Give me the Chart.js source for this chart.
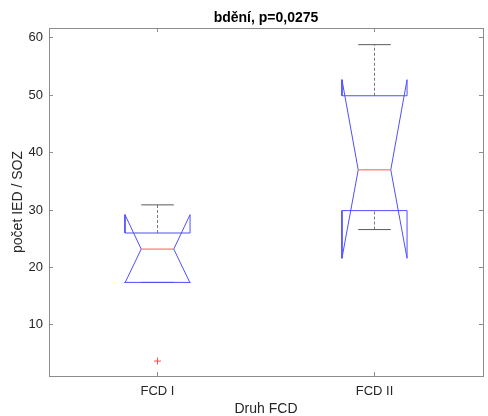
<!DOCTYPE html>
<html>
<head>
<meta charset="utf-8">
<script src="https://cdn.jsdelivr.net/npm/chart.js@4"></script>
<style>
  html, body { margin: 0; padding: 0; background: #fff; }
  #wrap { width: 488px; height: 416px; }
</style>
</head>
<body>
<div id="wrap"><canvas id="box" width="488" height="416"></canvas></div>
<script>
// ===== Data =====
const groups    = ["FCD I", "FCD II"];
const q1        = [17.4, 29.9];
const median    = [23.2, 37.0];
const q3        = [26.0, 49.9];
const notchLo   = [17.3, 21.6];
const notchHi   = [29.2, 52.7];
const whiskerLo = [17.4, 26.6];
const whiskerHi = [30.9, 58.8];
const outliers  = [[3.7], []];
const yTicks    = [10, 20, 30, 40, 50, 60];

// ===== Style =====
const BOX_W = 0.15, NOTCH_W = 0.075;
const axisColor = "#8c8c8c";
const textColor = "#262626";
Chart.defaults.font.family = "'Liberation Sans', Arial, sans-serif";

const lineDs = (data, color, order, dash) => ({
  type: "scatter",
  data,
  showLine: true,
  borderColor: color,
  borderWidth: 1,
  borderDash: dash || [],
  pointRadius: 0,
  fill: false,
  order
});

const datasets = [];
groups.forEach((g, i) => {
  const x = i + 1;
  // whiskers
  datasets.push(lineDs([{ x, y: q3[i] }, { x, y: whiskerHi[i] }], "#7a7a7a", 4, [3, 2]));
  datasets.push(lineDs([{ x, y: whiskerLo[i] }, { x, y: q1[i] }], "#7a7a7a", 4, [3, 2]));
  // caps
  datasets.push(lineDs([{ x: x - NOTCH_W, y: whiskerHi[i] }, { x: x + NOTCH_W, y: whiskerHi[i] }], "#5a5a5a", 3));
  datasets.push(lineDs([{ x: x - NOTCH_W, y: whiskerLo[i] }, { x: x + NOTCH_W, y: whiskerLo[i] }], "#5a5a5a", 3));
  // notched box outline
  datasets.push(lineDs([
    { x: x - BOX_W, y: q1[i] },
    { x: x - BOX_W, y: notchLo[i] },
    { x: x - NOTCH_W, y: median[i] },
    { x: x - BOX_W, y: notchHi[i] },
    { x: x - BOX_W, y: q3[i] },
    { x: x + BOX_W, y: q3[i] },
    { x: x + BOX_W, y: notchHi[i] },
    { x: x + NOTCH_W, y: median[i] },
    { x: x + BOX_W, y: notchLo[i] },
    { x: x + BOX_W, y: q1[i] },
    { x: x - BOX_W, y: q1[i] }
  ], "#4f4fff", 2));
  // median
  datasets.push(lineDs([{ x: x - NOTCH_W, y: median[i] }, { x: x + NOTCH_W, y: median[i] }], "#ff5a5a", 1));
  // outliers
  if (outliers[i].length) {
    datasets.push({
      type: "scatter",
      data: outliers[i].map(v => ({ x, y: v })),
      pointStyle: "cross",
      pointRadius: 3.5,
      borderColor: "#ff4d4d",
      borderWidth: 1,
      order: 0
    });
  }
});

const xTickSet = s => { s.ticks = groups.map((g, i) => ({ value: i + 1 })); };
const yTickSet = s => { s.ticks = yTicks.map(v => ({ value: v })); };
const gridIn = { drawOnChartArea: false, tickLength: -4, color: axisColor, lineWidth: 1 };

new Chart(document.getElementById("box"), {
  type: "scatter",
  data: { datasets },
  options: {
    responsive: false,
    animation: false,
    devicePixelRatio: 1,
    layout: { padding: 0 },
    plugins: {
      legend: { display: false },
      tooltip: { enabled: false },
      title: {
        display: true,
        text: "bdění, p=0,0275",
        fullSize: false,
        color: "#000",
        font: { size: 14, weight: "bold", lineHeight: 1.2 },
        padding: { top: 10, bottom: 0 }
      }
    },
    scales: {
      x: {
        type: "linear", position: "bottom", min: 0.5, max: 2.5,
        afterBuildTicks: xTickSet,
        afterFit: s => { s.height = 40; },
        grid: gridIn,
        border: { color: axisColor, width: 1 },
        ticks: {
          autoSkip: false, maxRotation: 0, padding: 12, color: textColor,
          font: { size: 13 },
          callback: v => groups[v - 1] ?? ""
        },
        title: {
          display: true, text: "Druh FCD", color: textColor,
          font: { size: 14, lineHeight: 1 }, padding: { top: 0, bottom: 0 }
        }
      },
      x2: {
        type: "linear", position: "top", min: 0.5, max: 2.5,
        afterBuildTicks: xTickSet,
        afterFit: s => { s.height = 1.2; },
        grid: gridIn,
        border: { color: axisColor, width: 1 },
        ticks: { display: false }
      },
      y: {
        type: "linear", position: "left", min: 1.1, max: 61.7,
        afterBuildTicks: yTickSet,
        afterFit: s => { s.width = 49; },
        grid: gridIn,
        border: { color: axisColor, width: 1 },
        ticks: { padding: 10, color: textColor, font: { size: 13 } },
        title: {
          display: true, text: "počet IED / SOZ", color: textColor,
          font: { size: 14, lineHeight: 1 }, padding: { top: 11, bottom: 0 }
        }
      },
      y2: {
        type: "linear", position: "right", min: 1.1, max: 61.7,
        afterBuildTicks: yTickSet,
        afterFit: s => { s.width = 1; },
        grid: gridIn,
        border: { color: axisColor, width: 1 },
        ticks: { display: false }
      }
    }
  }
});
</script>
</body>
</html>
